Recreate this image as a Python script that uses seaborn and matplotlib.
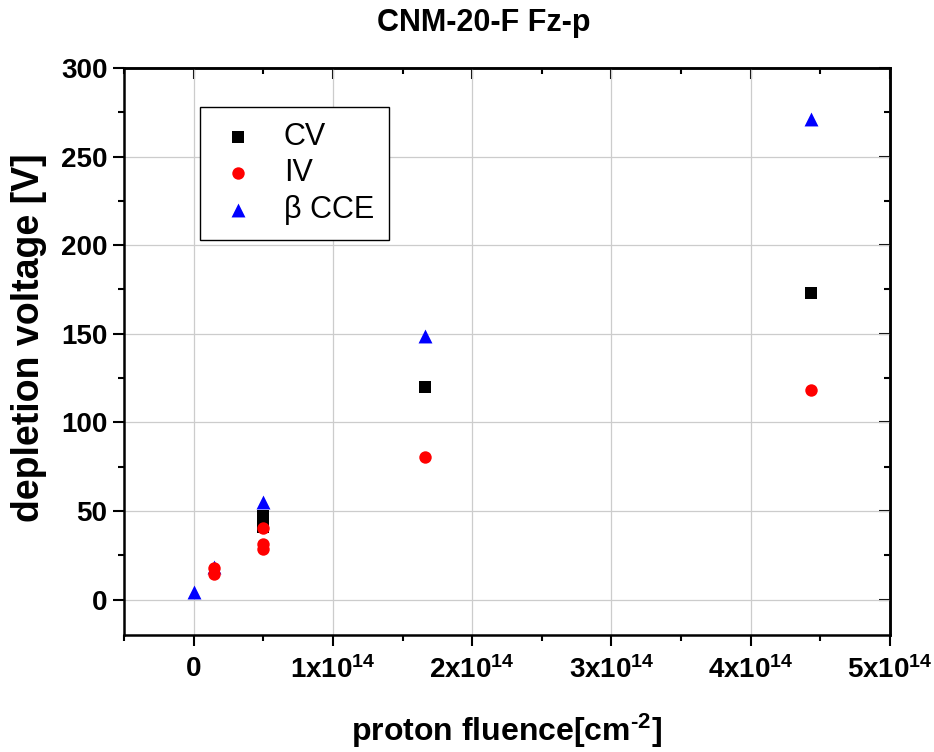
import matplotlib
matplotlib.use('Agg')
import matplotlib.pyplot as plt
import seaborn as sns
from matplotlib.ticker import MultipleLocator, FuncFormatter, NullFormatter

# Data (fluence in cm^-2, voltage in V)
cv_fluence = [5e13, 5e13, 1.66e14, 4.43e14]
cv_voltage = [47, 40.7, 120, 173]
iv_fluence = [1.44e13, 1.44e13, 5e13, 5e13, 5e13, 1.66e14, 4.43e14]
iv_voltage = [17.9, 14.7, 40.5, 31.5, 28.6, 80.4, 118.5]
cce_fluence = [0, 1.44e13, 5e13, 1.66e14, 4.43e14]
cce_voltage = [4.5, 18.6, 55, 149, 271]

sns.set_theme(style='ticks')
plt.rcParams['font.family'] = ['Liberation Sans', 'DejaVu Sans']
plt.rcParams['mathtext.default'] = 'regular'
for key in ['text.color', 'axes.labelcolor', 'xtick.color', 'ytick.color', 'axes.edgecolor']:
    plt.rcParams[key] = 'black'

fig = plt.figure(figsize=(9.34, 7.52), dpi=100)
ax = fig.add_axes([0.1328, 0.1556, 0.8201, 0.7540])

sns.scatterplot(x=cv_fluence, y=cv_voltage, marker='s', color='black', s=64,
                linewidth=0, label='CV', ax=ax, zorder=3)
sns.scatterplot(x=iv_fluence, y=iv_voltage, marker='o', color='red', s=80,
                linewidth=0, label='IV', ax=ax, zorder=5)
sns.scatterplot(x=cce_fluence, y=cce_voltage, marker='^', color='blue', s=100,
                linewidth=0, label='β CCE', ax=ax, zorder=4)

ax.set_xlim(-0.5e14, 5e14)
ax.set_ylim(-20, 300)
ax.xaxis.set_major_locator(MultipleLocator(1e14))
ax.xaxis.set_minor_locator(MultipleLocator(0.5e14))
ax.yaxis.set_major_locator(MultipleLocator(50))
ax.yaxis.set_minor_locator(MultipleLocator(25))

def sci_label(x, pos):
    if abs(x) < 1:
        return '0'
    return f'{int(round(x / 1e14))}x10$^{{14}}$'

ax.xaxis.set_major_formatter(FuncFormatter(sci_label))
ax.grid(True, which='major', color='#cccccc', linewidth=0.9, zorder=0)
ax.set_axisbelow(True)

for sp in ax.spines.values():
    sp.set_visible(True)
    sp.set_linewidth(1.8)
    sp.set_color('black')

ax.tick_params(which='major', direction='out', length=8, width=1.5, color='black')
ax.tick_params(which='minor', direction='out', length=4.5, width=1.5, color='black')
ax.tick_params(axis='y', which='major', labelsize=20, pad=4)
ax.tick_params(axis='x', which='major', labelsize=20, pad=7)
for lab in ax.get_yticklabels() + ax.get_xticklabels():
    lab.set_fontweight('bold')

# inward ticks on top and right
secx = ax.secondary_xaxis('top')
secx.xaxis.set_major_locator(MultipleLocator(1e14))
secx.xaxis.set_minor_locator(MultipleLocator(0.5e14))
secx.xaxis.set_major_formatter(NullFormatter())
secx.tick_params(which='major', direction='in', length=8, width=1.5)
secx.tick_params(which='minor', direction='in', length=4.5, width=1.5)
secx.spines['top'].set_linewidth(1.8)

secy = ax.secondary_yaxis('right')
secy.yaxis.set_major_locator(MultipleLocator(50))
secy.yaxis.set_minor_locator(MultipleLocator(25))
secy.yaxis.set_major_formatter(NullFormatter())
secy.tick_params(which='major', direction='in', length=8, width=1.5)
secy.tick_params(which='minor', direction='in', length=4.5, width=1.5)
secy.spines['right'].set_linewidth(1.8)

ax.set_ylabel('depletion voltage [V]', fontsize=27, fontweight='bold')
ax.yaxis.set_label_coords(-0.10, 0.525)
ax.set_xlabel('proton fluence[cm$^{\u20102}$]', fontsize=23, fontweight='bold')
ax.xaxis.set_label_coords(0.5, -0.135)

fig.text(0.518, 1 - 31 / 752, 'CNM-20-F Fz-p', ha='center', va='baseline',
         fontsize=22, fontweight='bold')

leg = ax.legend(loc='upper left', bbox_to_anchor=(0.099, 0.931), borderaxespad=0,
                fontsize=22, frameon=True, fancybox=False, shadow=False,
                labelspacing=0.2, handletextpad=0.75, borderpad=0.5,
                handlelength=1.5)
leg.get_frame().set_edgecolor('black')
leg.get_frame().set_linewidth(1.0)
leg.get_frame().set_alpha(1)

fig.savefig('out.png', dpi=100)
